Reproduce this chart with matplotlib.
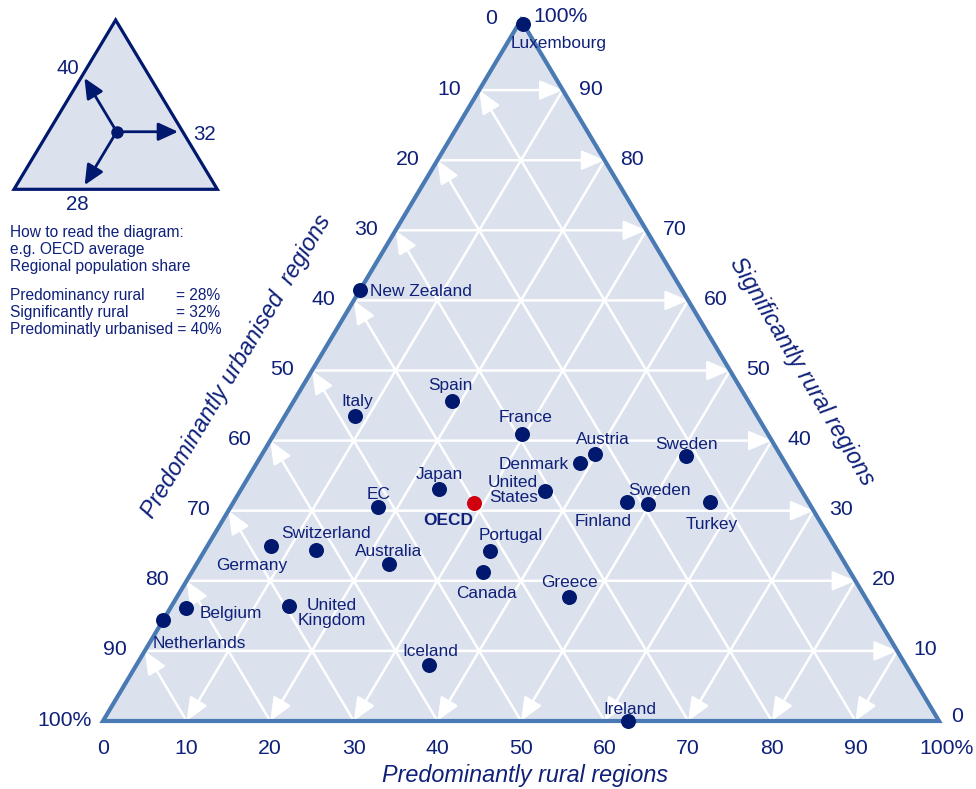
import numpy as np
import matplotlib
matplotlib.use('Agg')
import matplotlib.pyplot as plt
from matplotlib import rcParams
from matplotlib.patches import Polygon, FancyArrowPatch

# Arial-like font
rcParams.update({"font.family": ['Liberation Sans', 'DejaVu Sans']})

# ---- data: regional population shares (%) ----
countries = ['Luxembourg', 'New Zealand', 'Italy', 'Spain', 'France', 'Austria',
             'Denmark', 'Sweden', 'Japan', 'United\nStates', 'EC', 'Finland',
             'Sweden', 'Turkey', 'Germany', 'Switzerland', 'Australia', 'Portugal',
             'Canada', 'Greece', 'Belgium', 'Netherlands', 'United\nKingdom',
             'Iceland', 'Ireland']
rural = [0.5, 0.0, 8.4, 18.9, 29.7, 39.8, 38.7, 50.8, 23.6, 36.5, 17.7, 47.0,
         49.7, 57.0, 7.6, 13.3, 23.0, 34.1, 34.8, 46.9, 1.9, 0.0, 14.1, 35.0, 62.8]
sig_rural = [99.5, 61.5, 43.5, 45.7, 40.9, 38.1, 36.8, 37.8, 33.1, 32.8, 30.5, 31.3,
             31.0, 31.2, 25.0, 24.4, 22.4, 24.3, 21.2, 17.7, 16.1, 14.4, 16.4, 8.0, 0.0]
urban = [0.0, 38.5, 48.1, 35.4, 29.4, 22.1, 24.5, 11.4, 43.3, 30.7, 51.8, 21.7,
         19.3, 11.8, 67.4, 62.3, 54.6, 41.6, 44.0, 35.4, 82.0, 85.6, 69.5, 57.0, 37.2]

oecd_rural, oecd_sig, oecd_urban = 28.8, 31.1, 40.1

tick_values = [0, 10, 20, 30, 40, 50, 60, 70, 80, 90, 100]
tick_labels = ['0', '10', '20', '30', '40', '50', '60', '70', '80', '90', '100%']

# inset example (schematic point and where its arrows end), rural / sig
inset_point = (33.5, 34.0)
inset_tips = [(1.8, 65.7), (63.7, 34.0), (33.5, 2.5)]
inset_labels = ['40', '32', '28']

# label offsets from the dot in pixels (dx, dy up) and alignment
label_pos = [(36, -19, 'center'), (10, -1, 'left'), (2, 16, 'center'), (-2, 16, 'center'),
             (3, 18, 'center'), (8, 15, 'center'), (-12, 0, 'right'), (1, 13, 'center'),
             (1, 15, 'center'), (-7, 2, 'right'), (0, 14, 'center'), (-24, -19, 'center'),
             (11, 14, 'center'), (2, -21, 'center'), (-19, -19, 'center'), (10, 17, 'center'),
             (0, 13, 'center'), (21, 16, 'center'), (4, -20, 'center'), (0, 15, 'center'),
             (13, -4, 'left'), (36, -22, 'center'), (42, -6, 'center'), (1, 14, 'center'),
             (2, 13, 'center')]

text_col = '#0f2079'
dot_col = '#00186e'
fill_col = '#dbe1ed'
edge_col = '#4a7ab4'


def tern(r, s):
    # ternary -> cartesian (rural to the right, sig. rural to the top)
    return r + s / 2.0, s


W, H = 976, 789
fig = plt.figure(figsize=(W / 100, H / 100), dpi=100)

# main triangle axes: 0..100 spans the triangle base / height in pixels
x0, yb, tw, th = 103, 721, 836, 701
ax = fig.add_axes([x0 / W, (H - yb) / H, tw / W, th / H])
ax.set_xlim(0, 100)
ax.set_ylim(0, 100)
ax.axis('off')

corners = [tern(0, 0), tern(100, 0), tern(0, 100)]
ax.add_patch(Polygon(corners, closed=True, facecolor=fill_col, edgecolor='none', zorder=1))

# white grid with arrows
arrow_kw = dict(arrowstyle='-|>,head_length=1.4,head_width=0.6', mutation_scale=10,
                color='white', lw=1.8, shrinkA=0, shrinkB=0, zorder=2)
for v in range(10, 100, 10):
    # constant significantly rural -> right edge
    ax.add_patch(FancyArrowPatch(tern(0, v), tern(100 - v, v), **arrow_kw))
    # constant urbanised -> left edge
    ax.add_patch(FancyArrowPatch(tern(100 - v, 0), tern(0, 100 - v), **arrow_kw))
    # constant rural -> bottom edge
    ax.add_patch(FancyArrowPatch(tern(v, 100 - v), tern(v, 0), **arrow_kw))

ax.add_patch(Polygon(corners, closed=True, facecolor='none', edgecolor=edge_col,
                     lw=3.0, joinstyle='miter', zorder=3, clip_on=False))

# tick labels
for v, lab in zip(tick_values, tick_labels):
    # bottom: rural
    if v == 100:
        ax.annotate(lab, tern(v, 0), xytext=(-20, -27), textcoords='offset pixels',
                    ha='left', va='center', fontsize=15.3, color=text_col, annotation_clip=False)
    else:
        ax.annotate(lab, tern(v, 0), xytext=(0, -27), textcoords='offset pixels',
                    ha='center', va='center', fontsize=15.3, color=text_col, annotation_clip=False)
    # left: urbanised (0 at top)
    if v == 100:
        ax.annotate(lab, tern(0, 100 - v), xytext=(-11, 1), textcoords='offset pixels',
                    ha='right', va='center', fontsize=15.3, color=text_col, annotation_clip=False)
    else:
        ax.annotate(lab, tern(0, 100 - v), xytext=(-30, 1), textcoords='offset pixels',
                    ha='center', va='center', fontsize=15.3, color=text_col, annotation_clip=False)
    # right: significantly rural (0 at bottom)
    off = 12 if v in (0, 100) else 16
    dy = 4 if v in (0, 100) else 1
    ax.annotate(lab, tern(100 - v, v), xytext=(off, dy), textcoords='offset pixels',
                ha='left', va='center', fontsize=15.3, color=text_col, annotation_clip=False)

# axis titles
ang = np.degrees(np.arctan2(th, tw / 2.0))
ax.annotate('Predominantly urbanised  regions', tern(0, 50), xytext=(-76, 4),
            textcoords='offset pixels', rotation=ang, rotation_mode='anchor',
            ha='center', va='center', fontsize=16.8, style='italic', color=text_col,
            annotation_clip=False)
ax.annotate('Significantly rural regions', tern(50, 50), xytext=(72, -1),
            textcoords='offset pixels', rotation=-ang, rotation_mode='anchor',
            ha='center', va='center', fontsize=16.8, style='italic', color=text_col,
            annotation_clip=False)
ax.annotate('Predominantly rural regions', tern(50, 0), xytext=(4, -61),
            textcoords='offset pixels', ha='center', va='baseline', fontsize=16.8,
            style='italic', color=text_col, annotation_clip=False)

# countries
px, py = tern(np.array(rural), np.array(sig_rural))
ax.plot(px, py, 'o', color=dot_col, ms=10.8, mew=0, clip_on=False, zorder=4)
for name, xx, yy, (dx, dy, ha) in zip(countries, px, py, label_pos):
    ax.annotate(name, (xx, yy), xytext=(dx, dy - 1), textcoords='offset pixels',
                ha=ha, va='center', multialignment=ha if ha != 'center' else 'center',
                fontsize=12.4, color=text_col, linespacing=1.0, zorder=5,
                annotation_clip=False)

# OECD average
ox, oy = tern(oecd_rural, oecd_sig)
ax.plot(ox, oy, 'o', color='#d0000f', ms=10.8, mew=0, zorder=4)
ax.annotate('OECD', (ox, oy), xytext=(-26, -18), textcoords='offset pixels',
            ha='center', va='center', fontsize=12.4, fontweight='bold', color=text_col,
            annotation_clip=False)

# ---- inset: how to read the diagram ----
ix0, iyb, iw, ih = 14, 189.3, 203.3, 169.3
ax2 = fig.add_axes([ix0 / W, (H - iyb) / H, iw / W, ih / H])
ax2.set_xlim(0, 100)
ax2.set_ylim(0, 100)
ax2.axis('off')
ax2.add_patch(Polygon(corners, closed=True, facecolor=fill_col, edgecolor=dot_col,
                      lw=2.3, joinstyle='miter', clip_on=False))
ipx, ipy = tern(*inset_point)
ax2.plot(ipx, ipy, 'o', color=dot_col, ms=9, mew=0, zorder=4)
inset_off = [(-17, 10), (26, -3), (-7, -19)]
for (tr, ts), lab, (dx, dy) in zip(inset_tips, inset_labels, inset_off):
    tip = tern(tr, ts)
    ax2.add_patch(FancyArrowPatch((ipx, ipy), tip,
                                  arrowstyle='-|>,head_length=1.2,head_width=0.55',
                                  mutation_scale=10, color=dot_col, lw=2.0,
                                  shrinkA=0, shrinkB=0, zorder=3))
    ax2.annotate(lab, tip, xytext=(dx, dy), textcoords='offset pixels', ha='center',
                 va='center', fontsize=14.7, color=text_col, annotation_clip=False)

notes = ['How to read the diagram:', 'e.g. OECD average', 'Regional population share']
for txt, yy in zip(notes, [237, 254, 271.5]):
    fig.text(10 / W, 1 - yy / H, txt, ha='left', va='baseline', fontsize=11.2, color=text_col)
shares = [('Predominancy rural', '= 28%'), ('Significantly rural', '= 32%')]
for (a, b), yy in zip(shares, [300, 317]):
    fig.text(10 / W, 1 - yy / H, a, ha='left', va='baseline', fontsize=11.2, color=text_col)
    fig.text(220 / W, 1 - yy / H, b, ha='right', va='baseline', fontsize=11.2, color=text_col)
fig.text(10 / W, 1 - 334 / H, 'Predominatly urbanised = 40%', ha='left', va='baseline',
         fontsize=11.2, color=text_col)

fig.savefig('out.png', dpi=100)
